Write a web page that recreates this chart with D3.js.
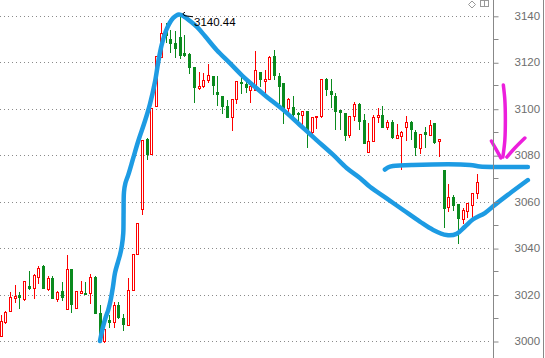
<!DOCTYPE html>
<html><head><meta charset="utf-8">
<script src="https://cdn.jsdelivr.net/npm/d3@7"></script>
<style>html,body{margin:0;padding:0;background:#fff;overflow:hidden}svg{display:block}</style>
</head><body><svg id="c" width="545" height="358"></svg>
<script>
// ---- data ----
const opens = [3002.3,3008.3,3012.9,3018.6,3019.8,3018.0,3023.7,3022.7,3027.7,3032.3,3022.3,3027.0,3018.2,3021.5,3013.7,3031.0,3014.3,3020.5,3020.8,3020.5,3027.4,3012.2,3000.0,3009.0,3008.3,3015.5,3010.0,3006.9,3022.0,3037.3,3056.7,3087.0,3080.4,3101.3,3122.4,3135.2,3129.9,3128.2,3131.0,3123.9,3123.4,3117.8,3108.8,3109.8,3112.4,3114.1,3107.3,3105.5,3101.2,3096.3,3104.1,3111.6,3110.6,3108.1,3108.1,3115.9,3112.1,3112.7,3122.7,3114.1,3110.9,3100.2,3100.6,3098.3,3097.3,3099.0,3090.1,3096.3,3096.9,3112.7,3107.8,3105.5,3099.5,3098.3,3088.7,3096.9,3101.9,3095.1,3081.5,3086.2,3096.3,3097.3,3092.0,3094.4,3087.3,3088.4,3092.0,3094.2,3089.8,3083.0,3089.8,3088.7,3093.7,3086.3,3073.6,3057.6,3061.9,3058.9,3052.4,3056.1,3058.6,3063.6];
const highs = [3011.2,3012.9,3021.0,3024.1,3021.2,3025.9,3030.3,3028.7,3032.4,3032.7,3028.0,3028.0,3021.5,3025.3,3037.2,3031.0,3021.6,3025.8,3025.5,3028.7,3028.0,3015.5,3005.2,3011.2,3016.9,3016.8,3011.6,3027.3,3037.4,3050.7,3086.6,3087.3,3100.3,3122.7,3137.0,3136.9,3133.9,3133.6,3140.44,3131.7,3123.9,3117.9,3115.9,3115.2,3119.3,3114.1,3114.1,3105.5,3103.8,3104.1,3112.1,3113.5,3111.6,3111.2,3125.0,3116.0,3116.7,3122.7,3125.3,3115.2,3111.0,3104.5,3105.5,3098.7,3099.1,3099.1,3096.6,3096.9,3112.7,3113.4,3112.7,3106.9,3099.5,3098.3,3096.9,3103.0,3102.3,3097.7,3093.7,3097.3,3100.2,3101.2,3095.1,3095.1,3093.3,3090.4,3096.9,3094.7,3090.8,3089.2,3092.3,3095.1,3093.8,3086.9,3073.7,3067.6,3062.9,3058.9,3057.1,3059.3,3063.6,3071.9];
const lows = [3002.2,3007.9,3012.9,3016.9,3014.3,3017.7,3022.3,3018.6,3025.1,3022.7,3022.0,3018.6,3017.4,3017.7,3013.6,3012.4,3014.3,3020.5,3020.2,3016.2,3012.1,3002.5,2999.4,3006.2,3006.2,3009.8,3004.7,3006.8,3021.9,3037.3,3054.6,3078.5,3080.3,3101.2,3122.3,3128.9,3124.5,3122.4,3121.7,3122.9,3115.2,3103.0,3108.7,3109.5,3111.6,3106.3,3101.6,3098.3,3096.5,3090.8,3102.3,3106.9,3107.3,3103.0,3108.0,3109.8,3106.6,3112.6,3112.7,3102.3,3093.7,3097.3,3096.9,3093.0,3091.6,3083.4,3089.7,3091.6,3096.6,3105.9,3100.9,3091.1,3091.1,3086.5,3088.0,3095.1,3091.1,3085.3,3081.4,3086.2,3094.4,3092.0,3091.1,3087.3,3087.2,3074.1,3086.5,3086.8,3080.1,3081.1,3083.7,3088.6,3085.1,3079.6,3049.2,3056.1,3056.4,3042.1,3050.7,3053.5,3053.5,3061.6];
const closes = [3008.6,3012.6,3018.8,3019.5,3018.9,3025.8,3022.8,3028.4,3031.3,3023.0,3027.0,3018.6,3021.0,3019.1,3030.9,3015.8,3021.5,3021.5,3020.4,3027.4,3012.2,3002.6,3005.0,3008.2,3015.5,3010.2,3007.2,3022.0,3037.3,3050.7,3086.5,3080.4,3100.2,3122.7,3132.7,3131.7,3128.2,3126.0,3123.1,3123.3,3118.1,3109.5,3109.8,3112.4,3114.5,3110.2,3106.3,3101.2,3096.6,3104.1,3112.1,3110.9,3109.2,3109.8,3116.7,3112.7,3112.7,3122.4,3114.5,3109.8,3100.2,3104.1,3097.7,3097.7,3099.0,3090.5,3096.6,3096.9,3112.7,3108.4,3106.3,3099.1,3098.7,3088.7,3096.9,3102.0,3094.8,3085.4,3086.2,3096.3,3097.3,3092.0,3094.4,3088.0,3088.7,3089.8,3094.2,3091.1,3083.4,3089.1,3089.1,3093.0,3085.8,3086.8,3057.4,3061.9,3058.6,3053.1,3056.4,3059.3,3063.6,3068.6];
const yTickValues = [3000,3020,3040,3060,3080,3100,3120,3140];
const yMinorValues = [3010,3030,3050,3070,3090,3110,3130];
const peakIndex = 38;
const peakLabel = "3140.44";
// hand-drawn annotations, in [bar index, price]
const blueCurve = [[21.1,3000.0],[21.73,3006.0],[22.26,3009.9],[22.86,3013.4],[23.32,3017.2],[23.85,3023.3],[24.28,3029.3],[24.91,3034.0],[25.34,3037.0],[25.76,3041.3],[26.04,3046.5],[26.10,3054.2],[26.19,3064.1],[26.50,3068.0],[27.10,3071.5],[28.16,3078.8],[29.22,3086.1],[30.64,3094.7],[31.70,3102.0],[32.76,3111.5],[33.46,3120.1],[34.18,3127.4],[35.24,3134.3],[36.64,3139.1],[37.85,3140.6],[38.91,3139.7],[40.18,3137.8],[41.67,3135.2],[43.36,3131.3],[45.84,3125.3],[48.66,3119.6],[51.48,3113.8],[54.32,3108.8],[56.44,3105.2],[59.96,3099.5],[63.5,3093.0],[67.04,3086.5],[70.57,3080.1],[73.41,3074.5],[76.23,3070.2],[78.35,3066.4],[81.89,3061.4],[85.41,3056.4],[88.95,3051.4],[91.77,3047.8],[94.61,3045.6],[96.73,3046.1],[98.49,3049.2],[100.25,3052.4],[102.73,3055.1],[104.85,3058.6],[107.6,3062.9],[111.85,3069.3]];
const blueLevel = [[81.53,3073.8],[82.16,3074.7],[83.22,3075.3],[87.46,3075.8],[99.55,3075.8],[101.67,3075.1],[105.91,3074.9],[111.85,3074.9]];
const arrowShaft = [[106.65,3110.2],[106.97,3103.8],[107.08,3095.1],[106.97,3086.5],[106.55,3079.2]];
const arrowLeft = [[104.11,3086.1],[105.06,3082.7],[106.12,3078.8]];
const arrowRight = [[107.40,3079.2],[109.09,3083.1],[111.21,3087.4]];

// ---- drawing ----
const svg = d3.select("#c");
const W = 545, H = 358;
svg.append("rect").attr("width", W).attr("height", H).attr("fill", "#fff");
const idx = d3.range(opens.length);
const x = d3.scaleLinear().domain([0, opens.length - 1]).range([0.5, 476.7]);
const y = d3.scaleLinear().domain([3000, 3140]).range([341, 15.8]);
const axisX = 493.5;

// grid
svg.append("g").selectAll("line").data(yTickValues).join("line")
  .attr("x1", 0).attr("x2", 490)
  .attr("y1", d => Math.round(y(d)) + 0.5).attr("y2", d => Math.round(y(d)) + 0.5)
  .attr("stroke", "#8a8a8a").attr("stroke-width", 1).attr("stroke-dasharray", "1,3");

// candles
const RED = "#ff0000", GREEN = "#0a8a1e";
const cg = svg.append("g").attr("shape-rendering", "crispEdges");
idx.forEach(i => {
  const px = Math.round(x(i));
  const up = closes[i] >= opens[i];
  const col = up ? RED : GREEN;
  cg.append("line").attr("x1", px + 0.5).attr("x2", px + 0.5)
    .attr("y1", Math.round(y(highs[i]))).attr("y2", Math.round(y(lows[i])) + 1)
    .attr("stroke", col).attr("stroke-width", 1);
  const top = Math.round(y(Math.max(opens[i], closes[i])));
  const bot = Math.round(y(Math.min(opens[i], closes[i])));
  if (up) {
    cg.append("rect").attr("x", px - 1 + 0.5).attr("y", top + 0.5)
      .attr("width", 2).attr("height", Math.max(1, bot - top))
      .attr("fill", "#fff").attr("stroke", col).attr("stroke-width", 1);
  } else {
    cg.append("rect").attr("x", px - 1).attr("y", top)
      .attr("width", 3).attr("height", Math.max(1, bot - top + 1))
      .attr("fill", col);
  }
});

// annotations (drawn under the peak label)
const line = d3.line().x(d => x(d[0])).y(d => y(d[1])).curve(d3.curveCatmullRom.alpha(0.5));
const BLUE = "#1d9be3";
[blueCurve, blueLevel].forEach(p => svg.append("path").attr("d", line(p))
  .attr("fill", "none").attr("stroke", BLUE).attr("stroke-width", 4.5)
  .attr("stroke-linecap", "round").attr("stroke-linejoin", "round"));
[arrowShaft, arrowLeft, arrowRight].forEach(p => svg.append("path").attr("d", line(p))
  .attr("fill", "none").attr("stroke", "#ec1fdc").attr("stroke-width", 3.5)
  .attr("stroke-linecap", "round").attr("stroke-linejoin", "round"));

// peak label
const pkx = Math.round(x(peakIndex)), pky = y(highs[peakIndex]);
svg.append("path").attr("d", `M${pkx + 5},${pky - 2.5} Q${pkx + 1},${pky - 1} ${pkx + 5},${pky + 1} L${pkx + 13},${pky + 2}`)
  .attr("fill", "none").attr("stroke", "#000").attr("stroke-width", 1);
svg.append("text").attr("x", pkx + 14).attr("y", pky + 11)
  .attr("font-family", "Liberation Sans, Arial, sans-serif").attr("font-size", 11.5)
  .attr("fill", "#000").text(peakLabel);

// right axis
const ag = svg.append("g").attr("transform", `translate(${axisX},0)`);
const axis = d3.axisRight(y).tickValues(yTickValues).tickSize(5).tickPadding(16).tickFormat(d3.format("d"));
ag.call(axis);
ag.select(".domain").remove();
ag.append("line").attr("x1", 0).attr("x2", 0).attr("y1", 0).attr("y2", H).attr("stroke", "#888");
ag.selectAll(".tick line").attr("stroke", "#888").attr("transform", "translate(0,0.5)");
ag.selectAll(".tick text").attr("fill", "#6e6e6e").attr("font-size", 11.5)
  .attr("font-family", "Liberation Sans, Arial, sans-serif");
ag.selectAll(".minor").data(yMinorValues).join("line").attr("class", "minor")
  .attr("x1", 0).attr("x2", 5).attr("y1", d => Math.round(y(d)) + 0.5).attr("y2", d => Math.round(y(d)) + 0.5)
  .attr("stroke", "#888");
svg.append("line").attr("x1", 543.5).attr("x2", 543.5).attr("y1", 0).attr("y2", H).attr("stroke", "#888");

// top-right small icons
svg.append("path").attr("d", "M472,1 L475.5,4.5 L472,8 L468.5,4.5 Z").attr("fill", "none").attr("stroke", "#999");
svg.append("rect").attr("x", 480.5).attr("y", 0.5).attr("width", 8).attr("height", 6).attr("fill", "none").attr("stroke", "#999");
svg.append("line").attr("x1", 484.5).attr("x2", 484.5).attr("y1", 0).attr("y2", 7).attr("stroke", "#999");
</script>
</body></html>
